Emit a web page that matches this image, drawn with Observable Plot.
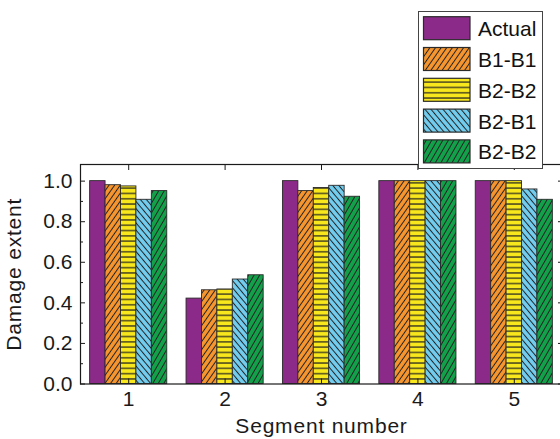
<!DOCTYPE html>
<html><head><meta charset="utf-8">
<script src="https://cdn.jsdelivr.net/npm/d3@7"></script>
<script src="https://cdn.jsdelivr.net/npm/@observablehq/plot@0.6"></script>
<style>
html,body{margin:0;padding:0;background:#fff;overflow:hidden}
#chart{width:560px;height:439px;overflow:hidden;position:relative}
</style></head><body><div id="chart"></div>
<script>
const segments = [1, 2, 3, 4, 5];
const seriesNames = ["Actual", "B1-B1", "B2-B2", "B2-B1", "B2-B2"];
const actual = [1.0, 0.421, 1.0, 1.0, 1.0];
const b1b1 = [0.980, 0.462, 0.951, 1.0, 1.0];
const b2b2h = [0.974, 0.466, 0.966, 1.0, 1.0];
const b2b1 = [0.908, 0.515, 0.977, 1.0, 0.959];
const b2b2d = [0.951, 0.536, 0.923, 1.0, 0.908];
const yTicks = [0, 0.2, 0.4, 0.6, 0.8, 1.0];
const yMinorTicks = [0.1, 0.3, 0.5, 0.7, 0.9];
const colors = ["#8C2A8A", "#F7962E", "#F8E71C", "#72CDEE", "#12A04A"];

const seriesValues = [actual, b1b1, b2b2h, b2b1, b2b2d];
const groupWidth = 0.8, barW = groupWidth / seriesValues.length;
const rows = seriesValues.map((vals, i) => segments.map((s, j) => ({
  seg: s, series: i, value: vals[j],
  x1: s - groupWidth / 2 + i * barW, x2: s - groupWidth / 2 + (i + 1) * barW
})));
const fills = colors.map((c, i) => i === 0 ? c : `url(#pat${i})`);

const font = "'Liberation Sans', Arial, Helvetica, sans-serif";
const plot = Plot.plot({
  width: 567, height: 439,
  marginLeft: 80, marginRight: 5, marginTop: 164, marginBottom: 55.5,
  style: {fontFamily: font, fontSize: "21px", color: "#1a1a1a", background: "#fff", maxWidth: "none"},
  x: {type: "linear", domain: [0.5, 5.5], axis: null},
  y: {domain: [0, 1.082], axis: null},
  marks: [
    ...rows.map((r, i) => Plot.rectY(r, {x1: "x1", x2: "x2", y1: 0, y2: "value", fill: fills[i], stroke: "#2a2a2a", strokeWidth: 0.9})),
    Plot.frame({stroke: "#1a1a1a", strokeWidth: 1.2}),
    Plot.axisX(segments, {anchor: "bottom", tickSize: -5, tickPadding: 12, tickFormat: d => String(d), label: null}),
    Plot.axisX(segments, {anchor: "bottom", tickSize: 0, tickFormat: () => "", label: "Segment number", labelAnchor: "center", labelOffset: 49, labelArrow: "none"}),
    Plot.axisX(segments, {anchor: "top", tickSize: -5, tickFormat: () => "", label: null}),
    Plot.axisY(yTicks, {anchor: "left", tickSize: -5, tickPadding: 13, tickFormat: d3.format(".1f"), label: null}),
    Plot.axisY(yTicks, {anchor: "left", tickSize: 0, tickFormat: () => "", label: "Damage extent", labelAnchor: "center", labelOffset: 74, labelArrow: "none"}),
    Plot.axisY(yMinorTicks, {anchor: "left", tickSize: -3, tickFormat: () => "", label: null}),
    Plot.axisY(yTicks, {anchor: "right", tickSize: -5, tickFormat: () => "", label: null}),
    Plot.axisY(yMinorTicks, {anchor: "right", tickSize: -3, tickFormat: () => "", label: null})
  ]
});
document.getElementById("chart").appendChild(plot);

const svg = d3.select(plot);
svg.selectAll('g[aria-label="x-axis label"], g[aria-label="y-axis label"]').attr("letter-spacing", "0.8px");

const defs = svg.insert("defs", ":first-child");
const hatchSpec = [null,
  {angle: 35, period: 4.6, sw: 1},
  {angle: 90, period: 5.3, sw: 1.2},
  {angle: -40, period: 4.6, sw: 1},
  {angle: 30, period: 4.8, sw: 1}];
hatchSpec.forEach((h, i) => {
  if (!h) return;
  const p = defs.append("pattern").attr("id", `pat${i}`)
    .attr("patternUnits", "userSpaceOnUse")
    .attr("width", h.period).attr("height", h.period)
    .attr("patternTransform", `rotate(${h.angle})`);
  p.append("rect").attr("width", h.period).attr("height", h.period).attr("fill", colors[i]);
  p.append("line").attr("x1", h.period / 2).attr("x2", h.period / 2)
    .attr("y1", 0).attr("y2", h.period)
    .attr("stroke", "#222").attr("stroke-width", h.sw);
});

// legend
const lg = svg.append("g").attr("font-family", font).attr("font-size", 21).attr("text-anchor", "start");
lg.append("rect").attr("x", 418.5).attr("y", 11.5).attr("width", 124).attr("height", 157)
  .attr("fill", "#fff").attr("stroke", "#444").attr("stroke-width", 1);
seriesNames.forEach((name, i) => {
  const y = 16.7 + i * 30.8;
  lg.append("rect").attr("x", 423.5).attr("y", y).attr("width", 46.5).attr("height", 23)
    .attr("fill", fills[i]).attr("stroke", "#2a2a2a").attr("stroke-width", 1.2);
  lg.append("text").attr("x", 478).attr("y", y + 19.5).attr("fill", "#111").text(name);
});
</script></body></html>
